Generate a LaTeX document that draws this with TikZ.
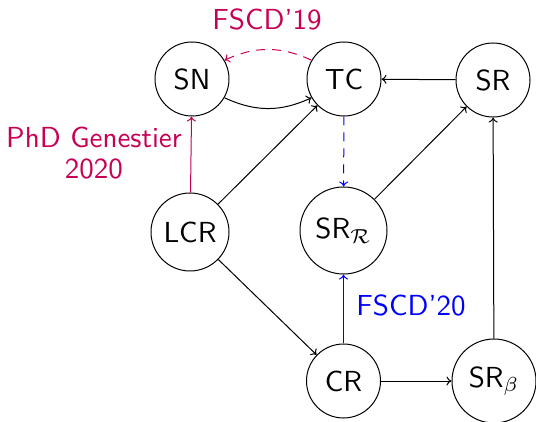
\documentclass[tikz,border=0pt]{standalone}
\usepackage{amsmath}
\usepackage{graphicx}
\usetikzlibrary{arrows.meta}
\renewcommand{\familydefault}{\sfdefault}
\definecolor{conf}{rgb}{0.78,0,0.33}
% 10pt text enlarged as a whole, so the 10pt design size is kept
\newcommand{\bigtxt}[1]{\scalebox{2.9}{#1}}
\begin{document}
\begin{tikzpicture}[x=1pt,y=-1pt,
  st/.style={circle,draw,line width=1pt,inner sep=0pt},
  edge/.style={-{To[length=5pt,width=9pt]},line width=1pt},
  dsh/.style={dash pattern=on 9pt off 7pt},
  lab/.style={inner sep=0pt}]
\useasboundingbox (0,0) rectangle (536,422);
% property nodes
\node[st,minimum size=74pt] (SN) at (192,79) {\bigtxt{SN}};
\node[st,minimum size=74pt] (TC) at (344,79) {\bigtxt{TC}};
\node[st,minimum size=74pt] (SR) at (493,80) {\bigtxt{SR}};
\node[st,minimum size=78pt] (LCR) at (190,232) {\bigtxt{LCR}};
\node[st,minimum size=87pt] (SRR) at (343.5,230.5) {\bigtxt{SR$_{\mathcal{R}}$}};
\node[st,minimum size=74pt] (CR) at (343.5,381) {\bigtxt{CR}};
\node[st,minimum size=84pt] (SRb) at (494,381) {\bigtxt{SR$_\beta$}};
% labels of the published results
\node[lab,conf] (f19) at (267,19) {\bigtxt{FSCD'19}};
\node[lab,conf] (phd) at (94,156) {\bigtxt{\begin{tabular}{@{}c@{}}PhD Genestier\\[-1.5pt]2020\end{tabular}}};
\node[lab,blue] (f20) at (411,305) {\bigtxt{FSCD'20}};
% implications
\draw[edge] (SN.330) to[bend right=25] (TC.210);
\draw[edge,conf,dsh] (TC.150) to[bend right=25] (SN.30);
\draw[edge] (SR) -- (TC);
\draw[edge,conf] (LCR) -- (SN);
\draw[edge] (LCR) -- (TC);
\draw[edge] (LCR) -- (CR);
\draw[edge,blue,dsh] (TC) -- (SRR);
\draw[edge] (SRR) -- (SR);
\draw[edge,blue] (CR) -- (SRR);
\draw[edge] (CR) -- (SRb);
\draw[edge] (SRb) -- (SR);
\end{tikzpicture}
\end{document}
